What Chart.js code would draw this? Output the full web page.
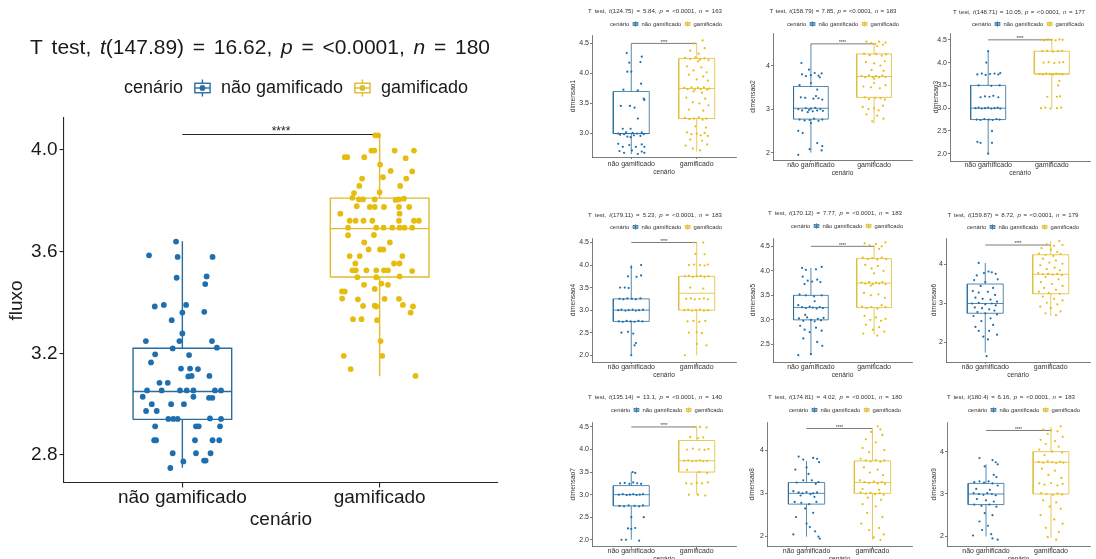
<!DOCTYPE html>
<html>
<head>
<meta charset="utf-8">
<script src="https://cdn.jsdelivr.net/npm/chart.js@4.4.0/dist/chart.umd.min.js"></script>
<style>
	body { margin: 0; background: #fff; width: 1096px; height: 559px; overflow: hidden; position: relative; }
	canvas { position: absolute; }
</style>
</head>
<body>
<script>
var categorias = ['não gamificado', 'gamificado'];

// painel grande: fluxo. teste = [graus de liberdade, t, n]
var fluxoTeste = ['147.89', '16.62', '180'];
var fluxoTicks = ['2.8', '3.2', '3.6', '4.0'];
// caixas: [mínimo, q1, mediana, q3, máximo]
var fluxoNaoBox = [2.75, 2.94, 3.05, 3.22, 3.64];
var fluxoGamBox = [3.11, 3.50, 3.69, 3.81, 4.06];
// pontos: [deslocamento do jitter, valor]
var fluxoNao = [[-0.032,3.639],[-0.169,3.585],[-0.024,3.579],[0.153,3.579],[-0.029,3.497],[0.123,3.502],[0.116,3.472],[-0.140,3.384],[-0.094,3.390],[0.019,3.390],[0.111,3.363],[0.0,3.360],[-0.054,3.330],[0.0,3.278],[-0.185,3.248],[-0.015,3.248],[0.150,3.248],[-0.049,3.219],[0.175,3.222],[-0.138,3.196],[0.034,3.193],[-0.159,3.164],[-0.007,3.140],[0.039,3.140],[0.079,3.138],[0.030,3.109],[0.047,3.111],[0.137,3.111],[-0.116,3.084],[-0.074,3.084],[-0.179,3.054],[-0.105,3.054],[-0.012,3.054],[0.022,3.054],[0.056,3.054],[0.165,3.054],[0.196,3.054],[-0.201,3.029],[0.056,3.029],[0.135,3.025],[0.152,3.025],[-0.155,3.000],[-0.057,3.000],[0.008,3.000],[-0.184,2.973],[-0.130,2.973],[-0.071,2.942],[-0.046,2.942],[-0.024,2.942],[0.140,2.944],[0.196,2.942],[-0.138,2.913],[0.069,2.913],[0.083,2.913],[0.191,2.913],[-0.143,2.858],[-0.133,2.858],[0.064,2.858],[0.153,2.858],[0.187,2.858],[-0.049,2.807],[0.069,2.807],[0.143,2.807],[0.110,2.778],[0.118,2.778],[0.005,2.775],[-0.061,2.749]];
var fluxoGam = [[-0.022,4.057],[-0.008,4.057],[-0.042,3.997],[-0.027,3.997],[0.076,3.997],[0.174,3.997],[-0.177,3.971],[-0.164,3.971],[-0.078,3.971],[0.132,3.967],[0.002,3.942],[0.056,3.917],[0.165,3.915],[0.017,3.892],[-0.089,3.887],[0.135,3.887],[-0.103,3.858],[0.104,3.858],[0.0,3.833],[-0.130,3.830],[-0.138,3.811],[-0.105,3.805],[-0.084,3.805],[-0.025,3.805],[0.081,3.803],[0.098,3.805],[0.123,3.808],[-0.116,3.778],[-0.050,3.775],[-0.025,3.775],[0.022,3.775],[0.098,3.775],[0.150,3.775],[-0.199,3.749],[0.101,3.749],[-0.152,3.721],[-0.122,3.721],[-0.082,3.721],[-0.037,3.721],[0.098,3.721],[0.174,3.721],[0.199,3.721],[-0.160,3.694],[-0.017,3.694],[0.020,3.694],[0.064,3.694],[0.101,3.694],[0.126,3.694],[0.165,3.694],[-0.029,3.665],[-0.160,3.664],[-0.078,3.636],[0.052,3.636],[-0.056,3.608],[0.002,3.608],[0.019,3.608],[-0.152,3.582],[-0.101,3.582],[0.115,3.582],[-0.123,3.553],[0.073,3.553],[0.101,3.553],[-0.138,3.526],[-0.121,3.526],[-0.067,3.526],[-0.017,3.526],[0.022,3.526],[0.042,3.526],[0.165,3.523],[-0.113,3.499],[-0.017,3.499],[0.101,3.502],[-0.079,3.469],[0.009,3.474],[0.042,3.469],[-0.025,3.453],[-0.191,3.443],[-0.177,3.443],[-0.190,3.415],[-0.110,3.412],[0.025,3.414],[0.098,3.414],[-0.025,3.387],[-0.017,3.384],[-0.084,3.386],[0.118,3.390],[0.169,3.384],[0.157,3.360],[-0.135,3.334],[-0.092,3.334],[-0.013,3.330],[0.005,3.248],[-0.182,3.190],[0.013,3.190],[-0.147,3.138],[0.182,3.111]];

// dimensões (painéis pequenos)
var dim1Teste = ['124.75', '5.84', '163'];
var dim1Ticks = ['3.0', '3.5', '4.0', '4.5'];
var dim1NaoBox = [2.66, 3.0, 3.0, 3.7, 4.5];
var dim1GamBox = [2.7, 3.25, 3.75, 4.25, 4.5];
var dim1Nao = [[-0.07,4.34],[-0.03,4.18],[0.16,4.28],[0.14,4.19],[-0.06,4.03],[0.0,4.03],[0.15,3.83],[-0.12,3.73],[0.10,3.72],[-0.16,3.46],[-0.02,3.46],[0.05,3.43],[0.19,3.58],[0.2,3.56],[0.10,3.25],[-0.13,3.08],[-0.01,3.08],[-0.2,3.0],[-0.17,2.98],[-0.11,2.99],[-0.06,2.95],[-0.01,2.94],[0.04,2.97],[0.09,3.0],[0.14,2.96],[0.19,2.99],[-0.08,3.02],[0.16,3.02],[0.02,3.01],[-0.2,2.83],[-0.13,2.78],[-0.03,2.81],[0.07,2.78],[0.16,2.82],[0.2,2.78],[-0.18,2.71],[-0.11,2.68],[0.01,2.72],[0.1,2.66],[0.16,2.70],[0.2,2.68]];
var dim1Gam = [[0.09,4.55],[-0.05,4.5],[0.12,4.42],[-0.1,4.38],[0.03,4.33],[-0.18,4.26],[-0.1,4.24],[-0.02,4.27],[0.05,4.23],[0.12,4.25],[0.18,4.22],[0.02,4.2],[-0.15,4.12],[0.07,4.1],[-0.05,4.05],[0.15,4.02],[-0.12,3.98],[0.1,3.95],[0.0,3.9],[0.17,3.88],[-0.19,3.76],[-0.14,3.74],[-0.08,3.77],[-0.03,3.73],[0.02,3.76],[0.06,3.74],[0.11,3.77],[0.16,3.73],[0.19,3.75],[-0.05,3.7],[0.08,3.68],[-0.16,3.6],[0.13,3.58],[-0.06,3.52],[0.04,3.5],[0.18,3.47],[-0.12,3.4],[0.1,3.38],[-0.18,3.26],[-0.11,3.24],[-0.04,3.25],[0.03,3.27],[0.09,3.23],[0.15,3.25],[-0.02,3.12],[0.14,3.1],[-0.15,3.02],[-0.08,2.99],[0.0,3.0],[0.06,2.97],[0.12,3.01],[0.17,2.96],[-0.1,2.9],[0.08,2.88],[-0.17,2.8],[0.16,2.82],[-0.06,2.75],[0.05,2.72]];

var dim2Teste = ['158.79', '7.85', '183'];
var dim2Ticks = ['2', '3', '4'];
var dim2NaoBox = [2.0, 2.77, 3.02, 3.52, 4.5];
var dim2GamBox = [2.67, 3.27, 3.75, 4.27, 4.5];
var dim2Nao = [[-0.15,4.06],[-0.03,3.91],[-0.14,3.8],[-0.08,3.76],[0.0,3.78],[0.06,3.83],[0.12,3.77],[0.17,3.82],[0.14,3.73],[-0.18,3.55],[0.0,3.6],[0.1,3.45],[-0.16,3.27],[-0.09,3.26],[0.04,3.24],[0.12,3.25],[0.18,3.22],[0.08,3.3],[-0.2,3.0],[-0.14,2.97],[-0.08,3.02],[-0.03,2.98],[0.0,3.01],[0.03,2.95],[0.07,3.03],[0.1,2.97],[0.15,3.0],[0.19,2.96],[-0.05,2.93],[-0.18,2.76],[-0.1,2.74],[-0.02,2.75],[0.05,2.78],[0.12,2.73],[0.18,2.76],[0.0,2.68],[-0.2,2.5],[-0.13,2.45],[0.1,2.22],[0.18,2.15],[-0.02,2.08],[0.17,2.05],[-0.2,1.95]];
var dim2Gam = [[-0.12,4.55],[-0.05,4.52],[0.02,4.5],[0.08,4.55],[0.14,4.48],[0.18,4.53],[0.05,4.45],[-0.16,4.27],[-0.07,4.24],[0.03,4.27],[0.12,4.23],[0.19,4.26],[-0.13,4.08],[0.0,4.05],[0.1,4.0],[0.17,4.1],[-0.04,3.9],[0.15,3.88],[-0.2,3.76],[-0.14,3.73],[-0.08,3.77],[-0.02,3.74],[0.03,3.76],[0.08,3.73],[0.13,3.77],[0.18,3.74],[0.0,3.7],[-0.17,3.52],[-0.05,3.5],[0.09,3.48],[0.18,3.55],[0.0,3.6],[-0.15,3.27],[-0.08,3.23],[0.02,3.26],[0.1,3.25],[0.17,3.22],[-0.18,3.05],[-0.09,3.0],[0.0,3.02],[0.07,2.97],[0.14,3.08],[-0.12,2.88],[0.05,2.85],[0.15,2.78],[-0.03,2.72]];

var dim3Teste = ['148.71', '10.05', '177'];
var dim3Ticks = ['2.0', '2.5', '3.0', '3.5', '4.0', '4.5'];
var dim3NaoBox = [2.0, 2.75, 3.0, 3.5, 4.25];
var dim3GamBox = [3.0, 3.75, 3.75, 4.25, 4.5];
var dim3Nao = [[0.0,4.25],[-0.03,4.0],[-0.17,3.74],[-0.1,3.76],[-0.04,3.73],[0.03,3.75],[0.1,3.76],[0.16,3.74],[0.19,3.77],[-0.15,3.5],[0.05,3.49],[0.18,3.5],[-0.12,3.24],[-0.05,3.26],[0.02,3.25],[0.08,3.27],[0.16,3.24],[-0.2,3.0],[-0.15,3.01],[-0.1,2.99],[-0.05,3.0],[0.0,3.01],[0.05,2.99],[0.1,3.0],[0.15,3.01],[0.19,2.99],[-0.18,2.75],[-0.12,2.74],[-0.06,2.76],[0.01,2.75],[0.07,2.74],[0.13,2.76],[0.18,2.75],[0.06,2.5],[-0.17,2.26],[-0.12,2.24],[0.06,2.24],[0.0,2.0]];
var dim3Gam = [[-0.18,4.5],[-0.12,4.49],[-0.06,4.51],[0.0,4.5],[0.06,4.49],[0.12,4.51],[0.17,4.5],[-0.15,4.25],[-0.07,4.26],[0.02,4.24],[0.1,4.25],[0.16,4.26],[-0.13,4.0],[-0.05,4.01],[0.04,3.99],[0.12,4.0],[0.18,4.01],[-0.19,3.75],[-0.14,3.74],[-0.09,3.76],[-0.03,3.75],[0.02,3.74],[0.07,3.76],[0.12,3.75],[0.17,3.74],[0.1,3.5],[0.12,3.6],[-0.07,3.25],[0.08,3.25],[0.13,3.26],[-0.17,3.0],[-0.1,3.01],[-0.02,2.99],[0.08,3.0],[0.15,3.01]];

var dim4Teste = ['179.11', '5.23', '183'];
var dim4Ticks = ['2.0', '2.5', '3.0', '3.5', '4.0', '4.5'];
var dim4NaoBox = [2.0, 2.75, 3.0, 3.25, 4.0];
var dim4GamBox = [2.0, 3.0, 3.375, 3.75, 4.5];
var dim4Nao = [[0.15,4.0],[0.0,3.95],[-0.05,3.75],[0.08,3.74],[0.15,3.77],[-0.17,3.5],[-0.1,3.5],[-0.04,3.49],[-0.18,3.25],[-0.12,3.24],[-0.06,3.26],[0.01,3.25],[0.07,3.24],[0.14,3.26],[-0.2,3.0],[-0.15,3.01],[-0.09,2.99],[-0.04,3.0],[0.02,3.01],[0.07,2.99],[0.12,3.0],[0.18,3.01],[-0.19,2.75],[-0.13,2.74],[-0.07,2.76],[-0.01,2.75],[0.05,2.74],[0.11,2.76],[0.17,2.75],[-0.15,2.5],[-0.05,2.52],[0.03,2.48],[0.07,2.27],[0.05,2.22],[0.0,2.0]];
var dim4Gam = [[-0.05,4.5],[0.1,4.5],[-0.02,4.25],[0.12,4.24],[-0.12,4.0],[-0.04,4.01],[0.05,4.0],[0.12,3.99],[0.17,4.01],[-0.18,3.75],[-0.12,3.76],[-0.06,3.74],[0.0,3.75],[0.06,3.76],[0.12,3.74],[0.18,3.75],[-0.1,3.5],[0.1,3.48],[-0.16,3.25],[-0.09,3.26],[-0.03,3.24],[0.04,3.25],[0.11,3.26],[0.17,3.24],[-0.19,3.0],[-0.13,3.01],[-0.07,2.99],[-0.01,3.0],[0.05,3.01],[0.11,2.99],[0.17,3.0],[-0.14,2.75],[-0.05,2.76],[0.04,2.74],[0.13,2.76],[-0.12,2.5],[0.0,2.51],[0.08,2.49],[0.0,2.25],[0.15,2.22],[-0.18,2.0]];

var dim5Teste = ['170.12', '7.77', '183'];
var dim5Ticks = ['2.5', '3.0', '3.5', '4.0', '4.5'];
var dim5NaoBox = [2.3, 3.0, 3.25, 3.5, 4.06];
var dim5GamBox = [2.7, 3.25, 3.75, 4.25, 4.53];
var dim5Nao = [[-0.14,4.06],[0.17,4.08],[-0.08,4.02],[0.08,4.03],[-0.13,3.88],[-0.05,3.8],[0.02,3.78],[0.1,3.82],[-0.1,3.73],[0.15,3.77],[-0.18,3.52],[-0.08,3.5],[0.05,3.48],[0.17,3.5],[-0.2,3.3],[-0.14,3.26],[-0.08,3.24],[-0.02,3.27],[0.03,3.25],[0.09,3.23],[0.14,3.26],[0.19,3.24],[0.06,3.38],[-0.19,3.03],[-0.12,2.98],[-0.06,3.05],[0.0,3.0],[0.06,2.97],[0.11,3.02],[0.16,2.99],[0.2,3.04],[-0.09,3.1],[-0.17,2.88],[-0.1,2.8],[-0.02,2.75],[0.08,2.84],[0.17,2.78],[-0.12,2.62],[0.1,2.55],[0.18,2.47],[-0.2,2.28],[0.0,2.3]];
var dim5Gam = [[-0.15,4.56],[-0.07,4.52],[0.03,4.55],[0.12,4.5],[0.18,4.58],[0.08,4.45],[-0.18,4.27],[-0.1,4.24],[-0.03,4.26],[0.05,4.23],[0.12,4.27],[0.19,4.24],[-0.14,4.12],[-0.04,4.05],[0.06,4.1],[0.15,4.0],[0.0,3.95],[-0.2,3.76],[-0.14,3.74],[-0.08,3.77],[-0.02,3.73],[0.03,3.76],[0.08,3.74],[0.13,3.77],[0.18,3.73],[-0.05,3.7],[-0.16,3.55],[-0.05,3.5],[0.07,3.52],[0.17,3.45],[-0.19,3.27],[-0.12,3.24],[-0.04,3.26],[0.05,3.23],[0.12,3.3],[0.18,3.26],[-0.15,3.08],[-0.06,3.0],[0.03,3.05],[0.11,2.98],[0.18,3.02],[-0.13,2.9],[-0.02,2.8],[0.08,2.85],[0.16,2.76],[-0.17,2.72],[0.05,2.68]];

var dim6Teste = ['159.87', '8.72', '179'];
var dim6Ticks = ['2', '3', '4'];
var dim6NaoBox = [1.74, 2.75, 3.0, 3.5, 4.04];
var dim6GamBox = [2.68, 3.25, 3.75, 4.25, 4.6];
var dim6Nao = [[-0.1,4.04],[0.05,3.82],[-0.02,3.78],[0.1,3.8],[0.16,3.76],[-0.13,3.72],[0.19,3.62],[-0.17,3.6],[0.0,3.55],[-0.07,3.45],[0.12,3.4],[-0.19,3.32],[-0.1,3.28],[0.04,3.3],[0.15,3.22],[-0.15,3.15],[-0.04,3.12],[0.08,3.1],[0.18,3.05],[-0.2,3.0],[-0.1,3.02],[0.0,2.98],[0.1,3.0],[0.16,2.95],[-0.16,2.9],[-0.05,2.88],[0.06,2.85],[0.14,2.82],[-0.12,2.78],[0.0,2.75],[0.18,2.72],[-0.18,2.68],[0.08,2.62],[-0.06,2.55],[0.12,2.45],[-0.15,2.4],[-0.1,2.3],[0.06,2.3],[0.18,2.2],[-0.03,2.15],[0.04,2.08],[0.02,1.65]];
var dim6Gam = [[0.13,4.6],[-0.06,4.52],[0.05,4.48],[0.18,4.5],[-0.14,4.42],[0.0,4.38],[0.1,4.32],[-0.18,4.28],[-0.08,4.25],[0.04,4.22],[0.15,4.27],[-0.12,4.15],[0.08,4.1],[-0.02,4.05],[0.18,4.02],[-0.16,3.98],[0.06,3.92],[-0.06,3.88],[0.14,3.85],[-0.19,3.78],[-0.12,3.75],[-0.04,3.76],[0.03,3.74],[0.1,3.76],[0.17,3.73],[-0.08,3.68],[0.12,3.62],[-0.15,3.55],[0.02,3.5],[0.18,3.45],[-0.1,3.4],[0.08,3.35],[-0.18,3.3],[-0.03,3.27],[0.14,3.25],[-0.12,3.18],[0.05,3.12],[0.18,3.08],[-0.06,3.02],[0.1,2.98],[-0.16,2.92],[0.0,2.88],[0.15,2.8],[-0.08,2.75],[0.08,2.7]];

var dim7Teste = ['135.14', '13.1', '140'];
var dim7Ticks = ['2.0', '2.5', '3.0', '3.5', '4.0', '4.5'];
var dim7NaoBox = [2.0, 2.75, 3.0, 3.2, 3.5];
var dim7GamBox = [3.0, 3.5, 3.75, 4.2, 4.5];
var dim7Nao = [[0.02,3.5],[0.06,3.48],[-0.17,3.25],[-0.1,3.26],[-0.03,3.24],[0.03,3.27],[0.09,3.25],[0.15,3.24],[-0.19,3.0],[-0.13,3.01],[-0.07,2.99],[-0.02,3.0],[0.03,3.01],[0.08,2.99],[0.13,3.0],[0.18,3.01],[-0.18,2.75],[-0.11,2.74],[-0.04,2.76],[0.05,2.75],[0.12,2.74],[0.18,2.76],[0.0,2.5],[0.19,2.5],[-0.05,2.25],[0.0,2.24],[0.06,2.26],[-0.15,2.0],[-0.08,2.0],[0.12,1.98]];
var dim7Gam = [[-0.05,4.5],[0.05,4.5],[0.15,4.49],[-0.1,4.28],[0.02,4.25],[0.1,4.27],[-0.15,4.0],[-0.06,4.02],[0.04,4.0],[0.12,3.99],[0.18,4.01],[-0.19,3.75],[-0.13,3.76],[-0.07,3.74],[-0.01,3.75],[0.05,3.76],[0.1,3.74],[0.16,3.75],[-0.15,3.55],[0.04,3.5],[0.16,3.48],[-0.16,3.25],[-0.08,3.24],[0.0,3.26],[0.08,3.25],[0.17,3.27],[-0.12,3.0],[0.02,3.0],[0.13,2.98]];

var dim8Teste = ['174.81', '4.02', '180'];
var dim8Ticks = ['2', '3', '4'];
var dim8NaoBox = [2.0, 2.75, 3.0, 3.25, 3.75];
var dim8GamBox = [1.92, 3.0, 3.25, 3.75, 4.5];
var dim8Nao = [[-0.12,3.85],[0.1,3.82],[0.16,3.8],[-0.05,3.78],[0.19,3.72],[0.0,3.6],[-0.17,3.55],[0.03,3.45],[-0.05,3.3],[0.08,3.3],[-0.15,3.25],[0.14,3.22],[0.18,3.26],[-0.2,3.05],[-0.12,3.02],[-0.06,3.0],[0.0,3.03],[0.06,2.98],[0.1,3.0],[0.16,3.02],[-0.09,2.95],[0.12,2.92],[-0.18,2.8],[-0.08,2.78],[0.04,2.75],[0.15,2.8],[-0.02,2.65],[0.1,2.55],[-0.16,2.45],[0.0,2.3],[0.05,2.22],[0.13,2.12],[-0.2,2.05],[0.18,2.0],[0.2,1.95]];
var dim8Gam = [[0.08,4.55],[0.12,4.48],[-0.02,4.42],[0.15,4.35],[-0.1,4.25],[0.05,4.18],[-0.15,4.05],[0.18,4.0],[-0.05,3.95],[-0.18,3.8],[-0.1,3.76],[-0.03,3.74],[0.05,3.77],[0.12,3.73],[0.18,3.76],[-0.13,3.6],[0.08,3.55],[-0.04,3.48],[0.16,3.42],[-0.19,3.3],[-0.12,3.26],[-0.05,3.24],[0.02,3.27],[0.08,3.23],[0.14,3.26],[0.19,3.22],[-0.15,3.1],[0.1,3.08],[-0.18,3.02],[-0.1,2.99],[-0.03,3.01],[0.04,2.98],[0.11,3.0],[0.17,2.97],[-0.07,2.9],[0.13,2.85],[-0.15,2.75],[0.05,2.7],[-0.08,2.55],[0.15,2.45],[-0.17,2.3],[0.1,2.2],[-0.05,2.15],[0.17,2.05],[0.02,1.98],[0.12,1.92]];

var dim9Teste = ['180.4', '6.16', '183'];
var dim9Ticks = ['2', '3', '4'];
var dim9NaoBox = [2.0, 2.75, 3.0, 3.25, 3.7];
var dim9GamBox = [1.96, 3.0, 3.75, 4.0, 4.58];
var dim9Nao = [[-0.1,3.85],[0.1,3.8],[0.15,3.75],[0.18,3.7],[-0.02,3.65],[0.12,3.45],[0.16,3.4],[-0.18,3.28],[-0.1,3.3],[-0.03,3.27],[0.04,3.3],[0.1,3.25],[0.18,3.2],[-0.15,3.12],[0.06,3.1],[-0.19,3.02],[-0.11,3.0],[-0.04,2.98],[0.02,3.02],[0.09,3.0],[0.15,2.97],[-0.14,2.88],[0.0,2.85],[0.12,2.82],[-0.18,2.75],[-0.07,2.72],[0.05,2.75],[0.16,2.7],[-0.02,2.55],[0.1,2.5],[-0.1,2.35],[0.03,2.25],[-0.06,2.15],[0.08,2.05],[-0.2,2.02],[0.1,1.95],[0.18,1.92]];
var dim9Gam = [[0.15,4.6],[-0.12,4.52],[0.0,4.5],[0.1,4.48],[-0.05,4.42],[0.18,4.35],[-0.16,4.28],[0.06,4.25],[-0.08,4.18],[0.12,4.12],[-0.18,4.05],[0.02,4.0],[0.17,3.98],[-0.1,3.92],[-0.19,3.76],[-0.12,3.74],[-0.05,3.77],[0.02,3.75],[0.08,3.73],[0.14,3.76],[0.19,3.74],[-0.14,3.6],[0.06,3.55],[-0.04,3.45],[0.16,3.38],[-0.18,3.25],[-0.1,3.22],[0.0,3.26],[0.1,3.2],[0.18,3.24],[-0.15,3.02],[-0.07,3.0],[0.03,2.98],[0.1,3.01],[0.17,2.99],[-0.12,2.85],[0.08,2.8],[-0.02,2.7],[0.15,2.65],[-0.16,2.5],[0.05,2.4],[0.18,2.3],[-0.08,2.2],[0.12,2.1],[-0.05,1.98],[0.08,1.92]];

// altura da barra de significância (fluxo, dim1..dim9)
var barraY = [4.06, 4.5, 4.5, 4.5, 4.5, 4.5, 4.5, 4.5, 4.5, 4.5];

var azul = '#1f6fae', azulCaixa = '#2a6c9c';
var amarelo = '#e6bd0f', amareloCaixa = '#dfbb2e';
var familia = '"Liberation Sans", Arial, sans-serif';

var estiloGrande = { fTick: 19, fRot: 19, fEixo: 19, fTit: 21, fLeg: 18, fAst: 12, raio: 2.9, lCaixa: 1.4, lEixo: 1.1,
	tickLen: 4.5, padY: 2, largura: 0.5, chave: 19, corTexto: '#1a1a1a', corEixo: '#262626' };
var estiloPequeno = { fTick: 7, fRot: 7, fEixo: 6.6, fTit: 6.1, fLeg: 5.9, fAst: 4.5, raio: 1.1, lCaixa: 0.8, lEixo: 0.7,
	tickLen: 2, padY: 1, largura: 0.55, chave: 6, corTexto: '#333', corEixo: '#444' };

// posições (px absolutos): canvas [x,y,w,h], area [esq,topo,dir,base], titulo [cx,cy,largura], legenda [cx,cy]
var paineis = [
	{ rotulo: 'fluxo', teste: fluxoTeste, ticks: fluxoTicks, nao: fluxoNao, gam: fluxoGam, naoBox: fluxoNaoBox, gamBox: fluxoGamBox,
	  estilo: estiloGrande, canvas: [0, 0, 520, 559], area: [64, 118, 498, 483], yLim: [2.69, 4.125],
	  titulo: [260, 48, 460], legenda: [296, 88], xRot: 498, xTit: 520, yTit: 17 },
	{ rotulo: 'dimensao1', teste: dim1Teste, ticks: dim1Ticks, nao: dim1Nao, gam: dim1Gam, naoBox: dim1NaoBox, gamBox: dim1GamBox,
	  estilo: estiloPequeno, canvas: [560, 0, 180, 192], area: [592, 35, 736, 157], yLim: [2.61, 4.64],
	  titulo: [655, 11, 134], legenda: [666, 24], xRot: 164, xTit: 172.5, yTit: 573 },
	{ rotulo: 'dimensao2', teste: dim2Teste, ticks: dim2Ticks, nao: dim2Nao, gam: dim2Gam, naoBox: dim2NaoBox, gamBox: dim2GamBox,
	  estilo: estiloPequeno, canvas: [740, 0, 176, 192], area: [773, 33, 916, 160], yLim: [1.83, 4.75],
	  titulo: [833, 11, 127], legenda: [843, 24], xRot: 165, xTit: 173, yTit: 753 },
	{ rotulo: 'dimensao3', teste: dim3Teste, ticks: dim3Ticks, nao: dim3Nao, gam: dim3Gam, naoBox: dim3NaoBox, gamBox: dim3GamBox,
	  estilo: estiloPequeno, canvas: [916, 0, 180, 192], area: [950, 33, 1090, 161], yLim: [1.84, 4.65],
	  titulo: [1019, 12, 132], legenda: [1028, 24], xRot: 165.5, xTit: 173.5, yTit: 936 },
	{ rotulo: 'dimensao4', teste: dim4Teste, ticks: dim4Ticks, nao: dim4Nao, gam: dim4Gam, naoBox: dim4NaoBox, gamBox: dim4GamBox,
	  estilo: estiloPequeno, canvas: [560, 195, 180, 190], area: [592, 238, 736, 362], yLim: [1.85, 4.6],
	  titulo: [655, 215, 134], legenda: [666, 227], xRot: 367.5, xTit: 375.5, yTit: 573 },
	{ rotulo: 'dimensao5', teste: dim5Teste, ticks: dim5Ticks, nao: dim5Nao, gam: dim5Gam, naoBox: dim5NaoBox, gamBox: dim5GamBox,
	  estilo: estiloPequeno, canvas: [740, 195, 176, 190], area: [773, 238, 916, 362], yLim: [2.14, 4.67],
	  titulo: [835, 213, 134], legenda: [847, 226], xRot: 367.5, xTit: 375.5, yTit: 753 },
	{ rotulo: 'dimensao6', teste: dim6Teste, ticks: dim6Ticks, nao: dim6Nao, gam: dim6Gam, naoBox: dim6NaoBox, gamBox: dim6GamBox,
	  estilo: estiloPequeno, canvas: [916, 195, 180, 190], area: [946, 238, 1090, 362], yLim: [1.5, 4.68],
	  titulo: [1013, 215, 131], legenda: [1023, 227], xRot: 367.5, xTit: 375.5, yTit: 934 },
	{ rotulo: 'dimensao7', teste: dim7Teste, ticks: dim7Ticks, nao: dim7Nao, gam: dim7Gam, naoBox: dim7NaoBox, gamBox: dim7GamBox,
	  estilo: estiloPequeno, canvas: [560, 385, 180, 182], area: [592, 422, 736, 546.5], yLim: [1.85, 4.61],
	  titulo: [655, 397, 134], legenda: [667, 410], xRot: 551.5, xTit: 559.5, yTit: 573 },
	{ rotulo: 'dimensao8', teste: dim8Teste, ticks: dim8Ticks, nao: dim8Nao, gam: dim8Gam, naoBox: dim8NaoBox, gamBox: dim8GamBox,
	  estilo: estiloPequeno, canvas: [740, 385, 176, 182], area: [767, 422, 912, 546.5], yLim: [1.77, 4.65],
	  titulo: [835, 397, 134], legenda: [845, 410], xRot: 551.5, xTit: 559.5, yTit: 752 },
	{ rotulo: 'dimensao9', teste: dim9Teste, ticks: dim9Ticks, nao: dim9Nao, gam: dim9Gam, naoBox: dim9NaoBox, gamBox: dim9GamBox,
	  estilo: estiloPequeno, canvas: [916, 385, 180, 182], area: [947, 422, 1090, 546.5], yLim: [1.76, 4.7],
	  titulo: [1011, 397, 128], legenda: [1024, 410], xRot: 551.5, xTit: 559.5, yTit: 934 }
];

function fonte(tam, italico) {
	return (italico ? 'italic ' : '') + tam + 'px ' + familia;
}

// título no estilo plotmath: partes [texto, itálico]; espaços um pouco esticados até a largura pedida
function textoRico(ctx, partes, cx, cy, tam, largura) {
	var natural = 0, espacos = 0;
	partes.forEach(function(pt) {
		ctx.font = fonte(tam, pt[1]);
		natural += ctx.measureText(pt[0]).width;
		espacos += (pt[0].match(/ /g) || []).length;
	});
	var extra = Math.max(0, (largura - natural) / espacos);
	var x = cx - (natural + extra * espacos) / 2;
	ctx.textAlign = 'left';
	ctx.textBaseline = 'middle';
	partes.forEach(function(pt) {
		ctx.font = fonte(tam, pt[1]);
		pt[0].split(/( )/).forEach(function(pedaco) {
			if (!pedaco) return;
			ctx.fillText(pedaco, x, cy);
			x += ctx.measureText(pedaco).width + (pedaco === ' ' ? extra : 0);
		});
	});
}

function chave(ctx, x, y, k, cor, e) {
	var cx = x + k / 2;
	ctx.strokeStyle = cor;
	ctx.lineWidth = e.lCaixa;
	ctx.beginPath();
	ctx.moveTo(cx, y + k * 0.05); ctx.lineTo(cx, y + k * 0.25);
	ctx.moveTo(cx, y + k * 0.75); ctx.lineTo(cx, y + k * 0.95);
	ctx.stroke();
	ctx.fillStyle = '#fff';
	ctx.fillRect(x + k * 0.1, y + k * 0.25, k * 0.8, k * 0.5);
	ctx.strokeRect(x + k * 0.1, y + k * 0.25, k * 0.8, k * 0.5);
	ctx.beginPath();
	ctx.moveTo(x + k * 0.1, y + k / 2); ctx.lineTo(x + k * 0.9, y + k / 2);
	ctx.stroke();
	ctx.fillStyle = cor;
	ctx.beginPath();
	ctx.arc(cx, y + k / 2, e.raio, 0, Math.PI * 2);
	ctx.fill();
}

function caixa(s, c, w) {
	return [
		{x: c - w, y: s[1]}, {x: c + w, y: s[1]}, {x: c + w, y: s[3]}, {x: c - w, y: s[3]}, {x: c - w, y: s[1]},
		{x: c, y: null},
		{x: c - w, y: s[2]}, {x: c + w, y: s[2]},
		{x: c, y: null},
		{x: c, y: s[3]}, {x: c, y: s[4]},
		{x: c, y: null},
		{x: c, y: s[0]}, {x: c, y: s[1]}
	];
}

function criarGrafico(p, indice) {
	var e = p.estilo;
	var ox = p.canvas[0], oy = p.canvas[1], cw = p.canvas[2], ch = p.canvas[3];
	var L = p.area[0] - ox, T = p.area[1] - oy, R = p.area[2] - ox, B = p.area[3] - oy;
	var xTitBase = p.xTit - oy + e.fEixo * 0.6;
	var padX = Math.max(-3, p.xRot - p.area[3] - e.tickLen - e.fRot * 0.6);
	var barra = barraY[indice];

	var cv = document.createElement('canvas');
	cv.width = cw; cv.height = ch;
	cv.style.left = ox + 'px'; cv.style.top = oy + 'px';
	document.body.appendChild(cv);

	var cabecalho = {
		id: 'cabecalho',
		afterDraw: function(chart) {
			var ctx = chart.ctx;
			ctx.save();
			ctx.fillStyle = e.corTexto;
			textoRico(ctx, [['T test, ', false], ['t', true], ['(' + p.teste[0] + ') = ' + p.teste[1] + ', ', false],
				['p', true], [' = <0.0001, ', false], ['n', true], [' = ' + p.teste[2], false]],
				p.titulo[0] - ox, p.titulo[1] - oy, e.fTit, p.titulo[2]);

			// legenda: cenário [chave] não gamificado [chave] gamificado
			var f = e.fLeg, k = e.chave;
			ctx.font = fonte(f);
			var wT = ctx.measureText('cenário').width;
			var w1 = ctx.measureText(categorias[0]).width;
			var w2 = ctx.measureText(categorias[1]).width;
			var g1 = f * 0.55, g2 = f * 0.5, g3 = f * 0.55;
			var total = wT + g1 + k + g2 + w1 + g3 + k + g2 + w2;
			var x = p.legenda[0] - ox - total / 2, y = p.legenda[1] - oy;
			ctx.textAlign = 'left';
			ctx.textBaseline = 'middle';
			ctx.fillStyle = e.corTexto;
			ctx.fillText('cenário', x, y);
			x += wT + g1;
			chave(ctx, x, y - k / 2, k, azulCaixa, e);
			x += k + g2;
			ctx.fillStyle = e.corTexto;
			ctx.font = fonte(f);
			ctx.fillText(categorias[0], x, y);
			x += w1 + g3;
			chave(ctx, x, y - k / 2, k, amareloCaixa, e);
			x += k + g2;
			ctx.fillStyle = e.corTexto;
			ctx.font = fonte(f);
			ctx.fillText(categorias[1], x, y);
			ctx.restore();
		}
	};

	var asteriscos = {
		id: 'asteriscos',
		afterDatasetsDraw: function(chart) {
			var ctx = chart.ctx;
			ctx.save();
			ctx.fillStyle = e.corTexto;
			ctx.font = fonte(e.fAst);
			ctx.textAlign = 'center';
			ctx.textBaseline = 'alphabetic';
			ctx.fillText('****', chart.scales.x.getPixelForValue(1.5), chart.scales.y.getPixelForValue(barra) + e.fAst * 0.08);
			ctx.restore();
		}
	};

	var w = e.largura / 2;
	var eixo = function(extra) {
		var base = {
			grid: { display: true, drawOnChartArea: false, drawTicks: true, tickLength: e.tickLen, color: e.corEixo, lineWidth: e.lEixo },
			border: { display: true, color: e.corEixo, width: e.lEixo }
		};
		return Object.assign(base, extra);
	};

	new Chart(cv, {
		type: 'scatter',
		data: {
			datasets: [
				{ data: p.nao.map(function(v) { return {x: 1 + v[0], y: v[1]}; }), backgroundColor: azul, borderWidth: 0,
				  pointRadius: e.raio, order: 0 },
				{ data: p.gam.map(function(v) { return {x: 2 + v[0], y: v[1]}; }), backgroundColor: amarelo, borderWidth: 0,
				  pointRadius: e.raio, order: 0 },
				{ type: 'line', data: caixa(p.naoBox, 1, w), borderColor: azulCaixa, borderWidth: e.lCaixa, pointRadius: 0,
				  tension: 0, spanGaps: false, borderJoinStyle: 'miter', fill: false, order: 1 },
				{ type: 'line', data: caixa(p.gamBox, 2, w), borderColor: amareloCaixa, borderWidth: e.lCaixa, pointRadius: 0,
				  tension: 0, spanGaps: false, borderJoinStyle: 'miter', fill: false, order: 1 },
				{ type: 'line', data: [{x: 1, y: barra}, {x: 2, y: barra}], borderColor: e.corEixo, borderWidth: e.lEixo,
				  pointRadius: 0, fill: false, order: 2 }
			]
		},
		options: {
			responsive: false,
			animation: false,
			devicePixelRatio: 1,
			events: [],
			clip: false,
			layout: { padding: { left: 0, top: T, right: cw - R, bottom: ch - xTitBase } },
			plugins: { legend: { display: false }, tooltip: { enabled: false }, title: { display: false } },
			scales: {
				x: eixo({
					type: 'linear', min: 0.4, max: 2.6,
					afterFit: function(s) { s.height = xTitBase - B; },
					afterBuildTicks: function(s) { s.ticks = [{value: 1}, {value: 2}]; },
					ticks: { callback: function(v) { return categorias[v - 1]; }, font: { family: familia, size: e.fRot },
						color: e.corTexto, padding: padX, maxRotation: 0, autoSkip: false },
					title: { display: true, text: 'cenário', font: { family: familia, size: e.fEixo }, color: e.corTexto,
						padding: { top: 0, bottom: 0 } }
				}),
				y: eixo({
					type: 'linear', min: p.yLim[0], max: p.yLim[1],
					afterFit: function(s) { s.width = L; },
					afterBuildTicks: function(s) { s.ticks = p.ticks.map(function(t) { return {value: parseFloat(t)}; }); },
					ticks: { callback: function(v, i) { return p.ticks[i]; }, font: { family: familia, size: e.fTick },
						color: e.corTexto, padding: e.padY, autoSkip: false },
					title: { display: true, text: p.rotulo, font: { family: familia, size: e.fEixo }, color: e.corTexto,
						padding: { top: p.yTit - ox - e.fEixo * 0.6, bottom: 0 } }
				})
			}
		},
		plugins: [cabecalho, asteriscos]
	});
}

paineis.forEach(criarGrafico);
</script>
</body>
</html>
